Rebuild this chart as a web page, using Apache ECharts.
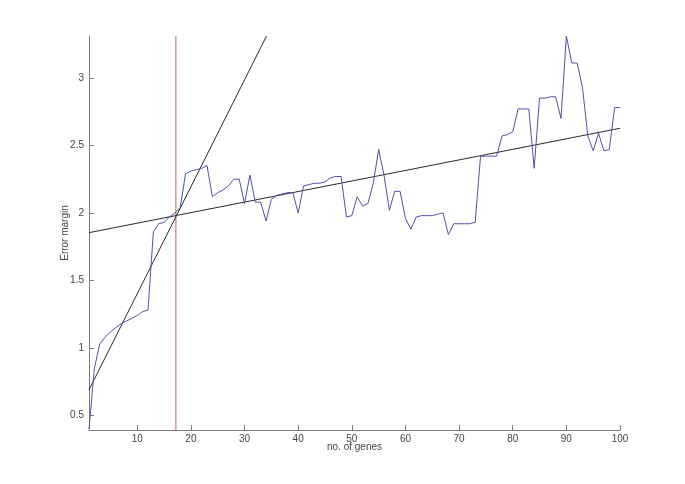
<!DOCTYPE html>
<html>
<head>
<meta charset="utf-8">
<script src="https://cdn.jsdelivr.net/npm/echarts@6/dist/echarts.min.js"></script>
<style>
	html, body { margin: 0; padding: 0; background: #fff; }
	#chart { width: 685px; height: 484px; }
</style>
</head>
<body>
<div id="chart"></div>
<script>
	// error margin per number of genes (x = 1..100)
	var errorMargin = [
		0.40, 0.85, 1.03, 1.08, 1.12, 1.15, 1.18, 1.20, 1.22, 1.24, 1.27, 1.28,
		1.86, 1.92, 1.93, 1.97, 2.00, 2.04, 2.29, 2.31, 2.32, 2.33, 2.35, 2.12,
		2.15, 2.17, 2.20, 2.25, 2.25, 2.07, 2.28, 2.08, 2.08, 1.94, 2.10, 2.13,
		2.14, 2.15, 2.15, 2.00, 2.20, 2.21, 2.22, 2.22, 2.23, 2.26, 2.27, 2.27,
		1.97, 1.98, 2.12, 2.05, 2.07, 2.22, 2.47, 2.28, 2.02, 2.16, 2.16, 1.96,
		1.88, 1.97, 1.98, 1.98, 1.98, 1.99, 2.00, 1.84, 1.92, 1.92, 1.92, 1.92,
		1.93, 2.42, 2.42, 2.42, 2.42, 2.57, 2.58, 2.60, 2.77, 2.77, 2.77, 2.33,
		2.85, 2.85, 2.86, 2.86, 2.70, 3.31, 3.11, 3.11, 2.93, 2.57, 2.46, 2.59,
		2.46, 2.47, 2.78, 2.78
	];
	// fitted lines (end points)
	var steepFit = [[1, 0.69], [34.1, 3.31]];
	var flatFit = [[1, 1.854], [100, 2.627]];
	// breakpoint marker
	var breakX = 17.2;
	var yMin = 0.393, yMax = 3.31;
	var xTicks = [10, 20, 30, 40, 50, 60, 70, 80, 90, 100];
	var yTicks = [0.5, 1, 1.5, 2, 2.5, 3];

	var chart = echarts.init(document.getElementById('chart'));
	var fontFamily = 'Liberation Sans, Arial, sans-serif';
	var axisColor = '#7a7a7a';

	var option = {
		animation: false,
		backgroundColor: '#fff',
		grid: {
			left: 89,
			right: 65,
			top: 36,
			bottom: 54
		},
		xAxis: {
			type: 'value',
			min: 1,
			max: 100,
			name: 'no. of genes',
			nameLocation: 'middle',
			nameGap: 12,
			nameMoveOverlap: false,
			nameTextStyle: { color: '#444', fontSize: 10, fontFamily: fontFamily },
			splitLine: { show: false },
			axisLine: { lineStyle: { color: axisColor, width: 1 } },
			axisTick: { inside: true, length: 5, customValues: xTicks, lineStyle: { color: axisColor } },
			axisLabel: {
				customValues: xTicks,
				margin: 4,
				color: '#444',
				fontSize: 10,
				fontFamily: fontFamily
			}
		},
		yAxis: {
			type: 'value',
			min: yMin,
			max: yMax,
			name: 'Error margin',
			nameLocation: 'middle',
			nameGap: 19,
			nameRotate: 90,
			nameMoveOverlap: false,
			nameTextStyle: { color: '#444', fontSize: 10, fontFamily: fontFamily },
			splitLine: { show: false },
			axisLine: { show: true, lineStyle: { color: axisColor, width: 1 } },
			axisTick: { show: true, inside: true, length: 5, customValues: yTicks, lineStyle: { color: axisColor } },
			axisLabel: {
				customValues: yTicks,
				margin: 5,
				color: '#444',
				fontSize: 10,
				fontFamily: fontFamily
			}
		},
		series: [
			{
				type: 'line',
				data: [[breakX, yMin], [breakX, yMax]],
				showSymbol: false,
				lineStyle: { color: '#c8645a', width: 1 },
				silent: true,
				z: 1
			},
			{
				type: 'line',
				data: steepFit,
				showSymbol: false,
				clip: true,
				lineStyle: { color: '#2a2a2a', width: 1 },
				silent: true,
				z: 2
			},
			{
				type: 'line',
				data: flatFit,
				showSymbol: false,
				lineStyle: { color: '#2a2a2a', width: 1 },
				silent: true,
				z: 2
			},
			{
				type: 'line',
				data: errorMargin.map(function (v, i) { return [i + 1, v]; }),
				showSymbol: false,
				lineStyle: { color: '#5050aa', width: 1 },
				z: 3
			}
		]
	};
	chart.setOption(option);
</script>
</body>
</html>
